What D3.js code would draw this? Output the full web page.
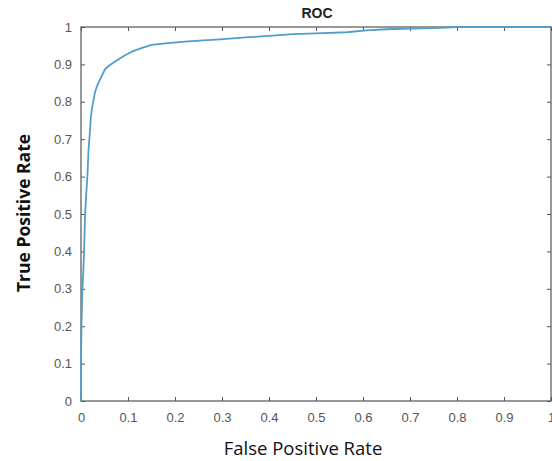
<!DOCTYPE html>
<html>
<head>
<meta charset="utf-8">
<script src="https://cdn.jsdelivr.net/npm/d3@7"></script>
<style>
  html, body { margin: 0; padding: 0; background: #fff; }
  svg { display: block; }
</style>
</head>
<body>
<svg id="chart" width="552" height="461"></svg>
<script>
// ROC curve: false positive rate vs. true positive rate
const fpr = [0, 0, 0.001, 0.003, 0.005, 0.0065, 0.0085, 0.011, 0.014, 0.016, 0.019, 0.021,
             0.024, 0.030, 0.035, 0.040, 0.051, 0.060, 0.072, 0.090, 0.108, 0.130, 0.150,
             0.185, 0.221, 0.260, 0.296, 0.350, 0.400, 0.451, 0.500, 0.565, 0.608, 0.650,
             0.700, 0.750, 0.800, 1.000];
const tpr = [0, 0.11, 0.20, 0.297, 0.35, 0.396, 0.493, 0.55, 0.61, 0.671, 0.72, 0.76,
             0.787, 0.827, 0.845, 0.858, 0.887, 0.897, 0.907, 0.922, 0.934, 0.944, 0.952,
             0.957, 0.961, 0.964, 0.967, 0.972, 0.976, 0.981, 0.983, 0.986, 0.991, 0.994,
             0.996, 0.997, 1.000, 1.000];
const xTicks = [0, 0.1, 0.2, 0.3, 0.4, 0.5, 0.6, 0.7, 0.8, 0.9, 1];
const yTicks = [0, 0.1, 0.2, 0.3, 0.4, 0.5, 0.6, 0.7, 0.8, 0.9, 1];

const svg = d3.select("#chart");
const mLeft = 81, mRight = 551, mTop = 27, mBottom = 401;

const x = d3.scaleLinear().domain([0, 1]).range([mLeft, mRight]);
const y = d3.scaleLinear().domain([0, 1]).range([mBottom, mTop]);

const axisColor = "#555";
const labelColor = "#555";
const fmt = d => d === 0 || d === 1 ? String(d) : d.toFixed(1);

function styleAxis(g, showLabels) {
  g.select(".domain").remove();
  g.selectAll(".tick line").attr("stroke", axisColor).attr("stroke-width", 1);
  g.selectAll(".tick text")
    .attr("fill", labelColor)
    .style("font-family", "Liberation Sans, Arial, sans-serif")
    .style("font-size", "13px")
    .style("display", showLabels ? null : "none");
}

// bottom and left axes with labels, ticks pointing inward
svg.append("g").attr("transform", `translate(0,${mBottom})`)
  .call(d3.axisBottom(x).tickValues(xTicks).tickFormat(fmt).tickSizeInner(-4).tickSizeOuter(0).tickPadding(12))
  .call(g => styleAxis(g, true));
svg.append("g").attr("transform", `translate(${mLeft},0)`)
  .call(d3.axisLeft(y).tickValues(yTicks).tickFormat(fmt).tickSizeInner(-4).tickSizeOuter(0).tickPadding(9))
  .call(g => styleAxis(g, true));
// top and right mirror ticks
svg.append("g").attr("transform", `translate(0,${mTop})`)
  .call(d3.axisTop(x).tickValues(xTicks).tickSizeInner(-4).tickSizeOuter(0))
  .call(g => styleAxis(g, false));
svg.append("g").attr("transform", `translate(${mRight},0)`)
  .call(d3.axisRight(y).tickValues(yTicks).tickSizeInner(-4).tickSizeOuter(0))
  .call(g => styleAxis(g, false));

// plot box
svg.append("rect")
  .attr("x", mLeft).attr("y", mTop)
  .attr("width", mRight - mLeft).attr("height", mBottom - mTop)
  .attr("fill", "none").attr("stroke", axisColor).attr("stroke-width", 1.2);

// curve
const pts = fpr.map((f, i) => [f, tpr[i]]);
svg.append("path")
  .datum(pts)
  .attr("fill", "none")
  .attr("stroke", "#4f9fca")
  .attr("stroke-width", 1.8)
  .attr("stroke-linejoin", "round")
  .attr("d", d3.line().x(d => x(d[0])).y(d => y(d[1])));

// title and axis labels
svg.append("text")
  .attr("x", 317).attr("y", 18)
  .attr("text-anchor", "middle")
  .style("font-family", "Liberation Sans, Arial, sans-serif")
  .style("font-weight", "bold")
  .style("font-size", "14px")
  .attr("fill", "#222")
  .text("ROC");

svg.append("text")
  .attr("x", 303).attr("y", 455)
  .attr("text-anchor", "middle")
  .style("font-family", "Open Sans, sans-serif")
  .style("font-size", "18.5px")
  .attr("fill", "#111")
  .text("False Positive Rate");

svg.append("text")
  .attr("transform", "translate(30,213) rotate(-90)")
  .attr("text-anchor", "middle")
  .style("font-family", "Open Sans, sans-serif")
  .style("font-weight", "bold")
  .style("font-size", "17.5px")
  .attr("fill", "#111")
  .text("True Positive Rate");
</script>
</body>
</html>
